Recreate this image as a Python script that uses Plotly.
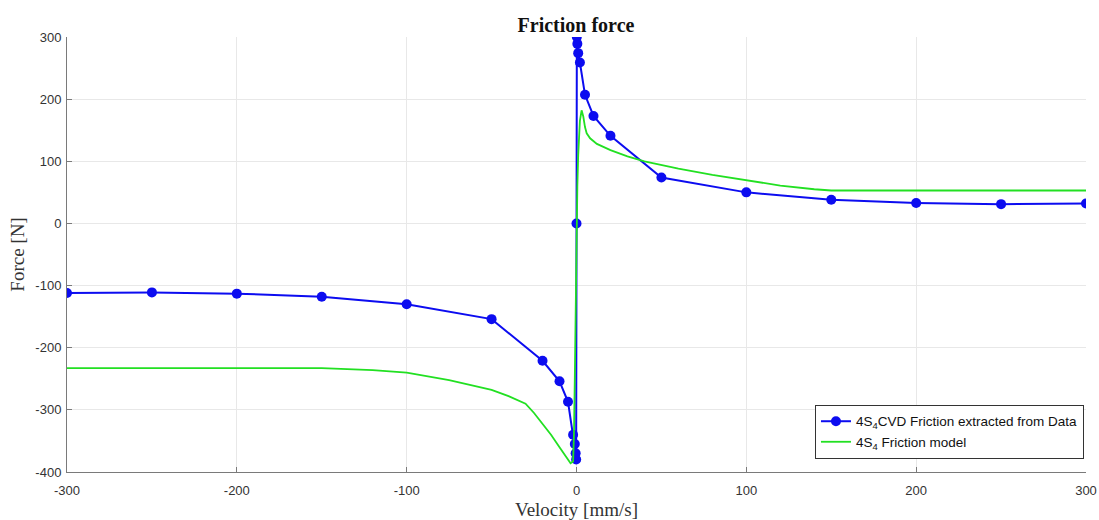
import plotly.graph_objects as go

# Measured friction force (blue markers)
vel_data = [-300, -250, -200, -150, -100, -50, -20, -10, -5, -2, -1, -0.5, -0.2,
            0, 0.2, 0.5, 1, 2, 5, 10, 20, 50, 100, 150, 200, 250, 300]
force_data = [-112, -111, -113, -118, -130, -154, -221, -254, -287, -340, -355, -370, -380,
              0, 300, 289, 274, 259, 207, 173, 141, 74, 50, 38, 33, 31, 32]

# Friction model curve (green)
vel_model = [-300, -250, -200, -150, -120, -100, -75, -50, -40, -30, -25, -20, -15, -10,
             -6, -3.5, -2, -1.5, -1, -0.5, 0, 0.5, 1, 2, 3, 4, 5, 6, 8, 12, 20, 30, 40,
             60, 80, 100, 120, 140, 150, 200, 250, 300]
force_model = [-233, -233, -233, -233, -236, -240, -252, -268, -278, -290, -305, -322, -340, -360,
               -375, -386, -383, -340, -250, -120, 0, 60, 110, 165, 182, 172, 155, 145, 137, 128,
               118, 108, 100, 88, 78, 69, 61, 55, 53, 53, 53, 53]

x_ticks = [-300, -200, -100, 0, 100, 200, 300]
x_tick_labels = ["-300", "-200", "-100", "0", "100", "200", "300"]
y_ticks = [-400, -300, -200, -100, 0, 100, 200, 300]
y_tick_labels = ["-400", "-300", "-200", "-100", "0", "100", "200", "300"]

fig = go.Figure()
fig.add_trace(go.Scatter(
    x=vel_data, y=force_data, mode="lines+markers",
    name="4S<sub>4</sub>CVD Friction extracted from Data",
    line=dict(color="#0c0cf0", width=2),
    marker=dict(color="#0c0cf0", size=10),
))
fig.add_trace(go.Scatter(
    x=vel_model, y=force_model, mode="lines",
    name="4S<sub>4</sub> Friction model",
    line=dict(color="#22e022", width=1.8),
))

axis_common = dict(
    showgrid=True, gridcolor="#e8e8e8", gridwidth=1,
    showline=True, linecolor="#7a7a7a", linewidth=1,
    ticks="inside", ticklen=5, tickcolor="#7a7a7a",
    tickfont=dict(family="Liberation Sans, Arial", size=13, color="#333333"),
    zeroline=False, automargin=False,
)

serif = "Liberation Serif, Times New Roman"

fig.update_layout(
    width=1099, height=520,
    margin=dict(l=67, r=13, t=37, b=48),
    paper_bgcolor="white", plot_bgcolor="white",
    title=dict(text="<b>Friction force</b>", x=576 / 1099, xanchor="center",
               y=1 - 25 / 520, yanchor="middle",
               font=dict(family=serif, size=20, color="#111111")),
    xaxis=dict(range=[-300, 300], tickvals=x_ticks, ticktext=x_tick_labels,
               ticklabelstandoff=6,
               title=dict(text="Velocity [mm/s]", standoff=8,
                          font=dict(family=serif, size=19, color="#333333")),
               **axis_common),
    yaxis=dict(range=[-400, 300], tickvals=y_ticks, ticktext=y_tick_labels,
               ticklabelstandoff=2,
               title=dict(text="Force [N]", standoff=5,
                          font=dict(family=serif, size=19, color="#333333")),
               **axis_common),
    legend=dict(x=0.998, xanchor="right", y=0.03, yanchor="bottom",
                bgcolor="white", bordercolor="#333333", borderwidth=1,
                font=dict(family="Liberation Sans, Arial", size=13.5, color="#111111"),
                tracegroupgap=4),
    showlegend=True,
)

fig.write_html("out.html")
